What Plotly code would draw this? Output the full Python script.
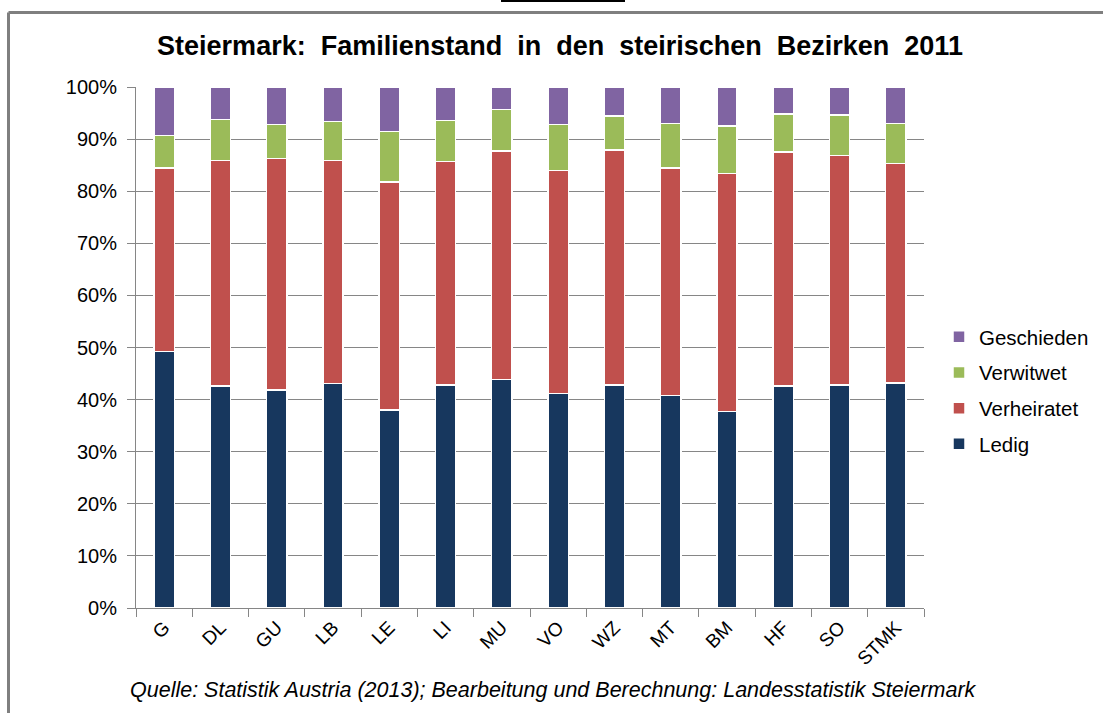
import plotly.graph_objects as go

categories = ["G", "DL", "GU", "LB", "LE", "LI", "MU", "VO", "WZ", "MT", "BM", "HF", "SO", "STMK"]
ledig = [49.2, 42.6, 41.8, 43.1, 38.0, 42.8, 43.9, 41.2, 42.8, 40.8, 37.7, 42.6, 42.8, 43.2]
verheiratet = [35.3, 43.3, 44.5, 42.8, 43.8, 42.9, 43.8, 42.8, 45.1, 43.7, 45.7, 44.9, 44.1, 42.1]
verwitwet = [6.2, 7.9, 6.5, 7.5, 9.7, 7.9, 8.0, 8.8, 6.5, 8.5, 9.1, 7.3, 7.7, 7.7]
geschieden = [9.3, 6.2, 7.2, 6.6, 8.5, 6.4, 4.3, 7.2, 5.6, 7.0, 7.5, 5.2, 5.4, 7.0]

series = [
    ("Ledig", ledig, "#17375E"),
    ("Verheiratet", verheiratet, "#C0504D"),
    ("Verwitwet", verwitwet, "#9BBB59"),
    ("Geschieden", geschieden, "#8064A2"),
]

fig = go.Figure()
for i, (name, vals, col) in enumerate(series):
    fig.add_trace(go.Bar(
        x=categories, y=[v / 100 for v in vals], name=name, legendgroup=name,
        legendrank=1000 - i,
        marker=dict(color=col, line=dict(color="white", width=1.5)),
    ))

L, R, T, B = 136, 179, 87, 105
W, H = 1103, 713
pw, ph = W - L - R, H - T - B

def px(x):
    return (x - L) / pw

def py(y):
    return (H - B - y) / ph

font = "Liberation Sans, Arial, sans-serif"

fig.update_layout(
    width=W, height=H,
    margin=dict(l=L, r=R, t=T, b=B, autoexpand=False),
    barmode="stack", bargap=0.64,
    plot_bgcolor="white", paper_bgcolor="white",
    font=dict(family=font, size=18, color="black"),
    title=dict(text="<b>Steiermark:  Familienstand  in  den  steirischen  Bezirken  2011</b>",
               x=px(560), xref="paper", xanchor="center",
               y=1 - 46 / H, yanchor="middle",
               font=dict(size=27, family=font, color="black")),
    legend=dict(traceorder="grouped", x=px(939), xanchor="left", y=py(317), yanchor="top",
                font=dict(size=20.5, family=font), itemwidth=30, tracegroupgap=6,
                bgcolor="rgba(0,0,0,0)"),
    xaxis=dict(showgrid=False, showline=True, linecolor="#868686", linewidth=1,
               ticks="outside", tickson="boundaries", ticklen=8, tickcolor="#868686",
               tickangle=-45, tickfont=dict(size=19)),
    yaxis=dict(range=[0, 1], tickformat=".0%", dtick=0.1, showgrid=True,
               gridcolor="#868686", gridwidth=1, showline=True, linecolor="#868686",
               ticks="outside", ticklen=8, tickcolor="#868686", tickfont=dict(size=20),
               ticklabelstandoff=6, zeroline=False),
    showlegend=True,
)

fig.add_annotation(
    text="<i>Quelle: Statistik Austria (2013); Bearbeitung und Berechnung: Landesstatistik Steiermark</i>",
    xref="paper", yref="paper", x=px(553), y=py(690), xanchor="center", yanchor="middle",
    showarrow=False, font=dict(size=21.5, family=font, color="black"),
)

# outer frame and top mark
fig.add_shape(type="line", xref="paper", yref="paper", x0=px(8.5), x1=px(1110), y0=py(12.5), y1=py(12.5),
              line=dict(color="#7F7F7F", width=3))
fig.add_shape(type="line", xref="paper", yref="paper", x0=px(8.5), x1=px(8.5), y0=py(12.5), y1=py(720),
              line=dict(color="#7F7F7F", width=3))
fig.add_shape(type="line", xref="paper", yref="paper", x0=px(501), x1=px(625), y0=py(1), y1=py(1),
              line=dict(color="black", width=2))

fig.write_html("out.html", config={"displayModeBar": False},
               post_script="document.body.style.margin='0';document.body.style.overflow='hidden';")
